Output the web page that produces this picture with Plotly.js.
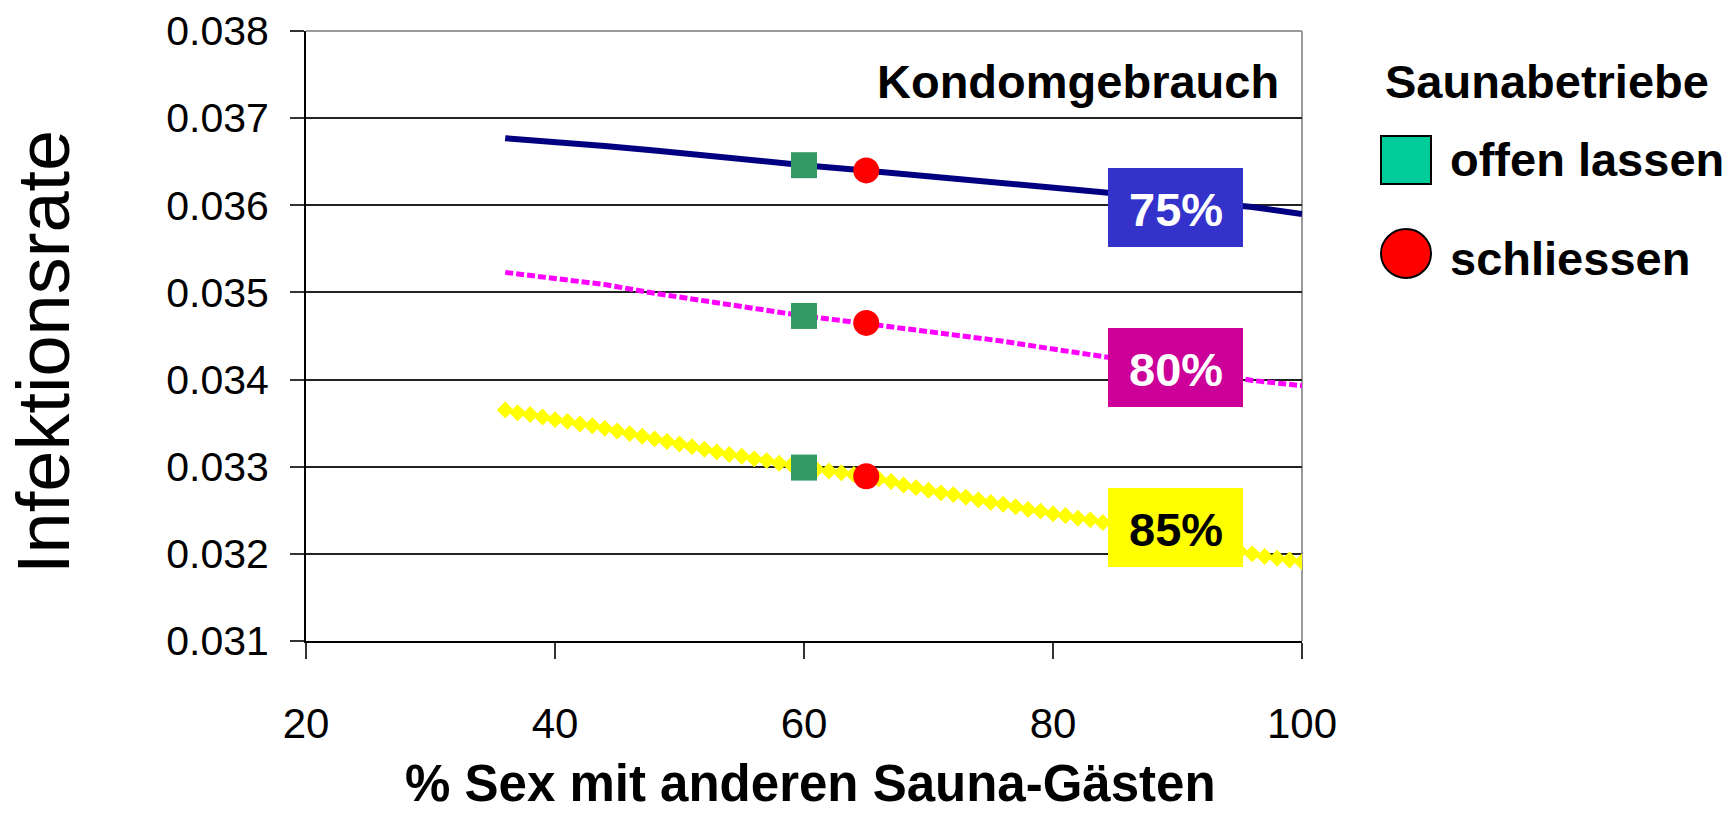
<!DOCTYPE html>
<html>
<head>
<meta charset="utf-8">
<script src="https://cdn.plot.ly/plotly-3.0.1.min.js"></script>
<style>
html,body{margin:0;padding:0;background:#fff;}
#chart{width:1732px;height:814px;}
</style>
</head>
<body>
<div id="chart"></div>
<script>
// ---- data ----
const xTicks = [20, 40, 60, 80, 100];
const yTicks = [0.031, 0.032, 0.033, 0.034, 0.035, 0.036, 0.037, 0.038];
const yTickText = ["0.031", "0.032", "0.033", "0.034", "0.035", "0.036", "0.037", "0.038"];

const x75 = [36, 40, 44, 48, 52, 56, 60, 64, 68, 72, 76, 80, 84, 88, 92, 96, 100];
const y75 = [0.03677, 0.03673, 0.03668, 0.03663, 0.03657, 0.03651, 0.03646, 0.03641, 0.03636, 0.03631, 0.03625, 0.03620, 0.03615, 0.03609, 0.03604, 0.03598, 0.03590];

const x80 = [36, 40, 44, 48, 52, 56, 60, 64, 68, 72, 76, 80, 84, 88, 92, 96, 100];
const y80 = [0.03523, 0.03516, 0.03509, 0.03499, 0.03490, 0.03481, 0.03473, 0.03466, 0.03459, 0.03451, 0.03444, 0.03435, 0.03427, 0.03418, 0.03409, 0.03399, 0.03393];

const x85 = [36, 37, 38, 39, 40, 41, 42, 43, 44, 45, 46, 47, 48, 49, 50, 51, 52, 53, 54, 55, 56, 57, 58, 59, 60, 61, 62, 63, 64, 65, 66, 67, 68, 69, 70, 71, 72, 73, 74, 75, 76, 77, 78, 79, 80, 81, 82, 83, 84, 85, 86, 87, 88, 89, 90, 91, 92, 93, 94, 95, 96, 97, 98, 99, 100];
const y85 = [0.03365, 0.03362, 0.03360, 0.03357, 0.03354, 0.03352, 0.03349, 0.03347, 0.03344, 0.03341,
             0.03338, 0.03335, 0.03332, 0.03329, 0.03326, 0.03323, 0.03320, 0.03317, 0.03314, 0.03312,
             0.03309, 0.03307, 0.03304, 0.03302, 0.03299, 0.03297, 0.03295, 0.03293, 0.03291, 0.03289,
             0.03286, 0.03283, 0.03279, 0.03276, 0.03273, 0.03270, 0.03268, 0.03265, 0.03262, 0.03259,
             0.03257, 0.03254, 0.03251, 0.03249, 0.03246, 0.03244, 0.03241, 0.03239, 0.03236, 0.03233,
             0.03230, 0.03227, 0.03224, 0.03221, 0.03218, 0.03215, 0.03212, 0.03209, 0.03206, 0.03203,
             0.03200, 0.03197, 0.03195, 0.03193, 0.03191];

const xOpen = [60, 60, 60];
const yOpen = [0.03646, 0.03473, 0.03299];
const xClose = [65, 65, 65];
const yClose = [0.03640, 0.03465, 0.03289];

const seriesLabels = ["75%", "80%", "85%"];
const legendTitle = "Saunabetriebe";
const legendLabels = ["offen lassen", "schliessen"];
const labelTitle = "Kondomgebrauch";
const xTitle = "% Sex mit anderen Sauna-Gästen";
const yTitle = "Infektionsrate";

// ---- layout helpers (pixel -> paper) ----
const W = 1732, H = 814;
const M = {l: 306, r: 430, t: 31, b: 173};
const PW = W - M.l - M.r, PH = H - M.t - M.b;
const px = x => (x - M.l) / PW;
const py = y => (H - M.b - y) / PH;

const FONT = "Liberation Sans, Arial, Helvetica, sans-serif";

const traces = [
  {x: x75, y: y75, mode: "lines", line: {color: "#000080", width: 6}, hoverinfo: "skip"},
  {x: x80, y: y80, mode: "lines", line: {color: "#FF00FF", width: 5, dash: "8px,3px"}, hoverinfo: "skip"},
  {x: x85, y: y85, mode: "lines+markers", line: {color: "#FFFF00", width: 3},
   marker: {symbol: "diamond", size: 13, color: "#FFFF00"}, hoverinfo: "skip"},
  {x: xOpen, y: yOpen, mode: "markers", marker: {symbol: "square", size: 26, color: "#339966"}, hoverinfo: "skip"},
  {x: xClose, y: yClose, mode: "markers", marker: {symbol: "circle", size: 26, color: "#FF0000"}, hoverinfo: "skip"}
];

const boxColors = ["#3333CC", "#CC0099", "#FFFF00"];
const boxText = ["#FFFFFF", "#FFFFFF", "#000000"];
const boxTops = [168, 328, 488];

const shapes = [
  // top and right frame (gray)
  {type: "line", xref: "paper", yref: "paper", x0: 0, x1: 1, y0: 1, y1: 1, line: {color: "#9a9a9a", width: 2}, layer: "between"},
  {type: "line", xref: "paper", yref: "paper", x0: 1, x1: 1, y0: 0, y1: 1, line: {color: "#9a9a9a", width: 2}, layer: "between"},
  // legend symbols
  {type: "rect", xref: "paper", yref: "paper", x0: px(1381), x1: px(1431), y0: py(184), y1: py(136),
   fillcolor: "#00CC99", line: {color: "#000", width: 2}},
  {type: "circle", xref: "paper", yref: "paper", x0: px(1381), x1: px(1431), y0: py(278), y1: py(229),
   fillcolor: "#FF0000", line: {color: "#000", width: 2}}
];
boxTops.forEach((t, i) => {
  shapes.push({type: "rect", xref: "paper", yref: "paper", x0: px(1108), x1: px(1243), y0: py(t + 79), y1: py(t),
    fillcolor: boxColors[i], line: {width: 0}, layer: "above"});
});

const annotations = [
  {xref: "paper", yref: "paper", x: px(1281), y: py(82), xanchor: "right", yanchor: "middle", showarrow: false,
   text: "<b>" + labelTitle + "</b>", font: {family: FONT, size: 47, color: "#000"}},
  {xref: "paper", yref: "paper", x: px(1383), y: py(82), xanchor: "left", yanchor: "middle", showarrow: false,
   text: "<b>" + legendTitle + "</b>", font: {family: FONT, size: 47, color: "#000"}},
  {xref: "paper", yref: "paper", x: px(1448), y: py(159), xanchor: "left", yanchor: "middle", showarrow: false,
   text: "<b>" + legendLabels[0] + "</b>", font: {family: FONT, size: 47, color: "#000"}},
  {xref: "paper", yref: "paper", x: px(1448), y: py(258), xanchor: "left", yanchor: "middle", showarrow: false,
   text: "<b>" + legendLabels[1] + "</b>", font: {family: FONT, size: 47, color: "#000"}},
  {xref: "paper", yref: "paper", x: px(810), y: py(783), xanchor: "center", yanchor: "middle", showarrow: false,
   text: "<b>" + xTitle + "</b>", font: {family: FONT, size: 51, color: "#000"}},
  {xref: "paper", yref: "paper", x: px(43), y: py(352), xanchor: "center", yanchor: "middle", showarrow: false,
   textangle: -90, text: yTitle, font: {family: FONT, size: 74, color: "#000"}}
];
boxTops.forEach((t, i) => {
  annotations.push({xref: "paper", yref: "paper", x: px(1176), y: py(t + 41), xanchor: "center", yanchor: "middle",
    showarrow: false, text: "<b>" + seriesLabels[i] + "</b>", font: {family: FONT, size: 47, color: boxText[i]}});
});

const layout = {
  width: W, height: H,
  margin: M,
  paper_bgcolor: "#fff", plot_bgcolor: "#fff",
  showlegend: false,
  font: {family: FONT, color: "#000"},
  xaxis: {
    range: [20, 100], tickvals: xTicks, ticktext: xTicks.map(String),
    ticks: "outside", ticklen: 16, tickwidth: 2, tickcolor: "#333",
    showline: true, linecolor: "#000", linewidth: 2, showgrid: false, zeroline: false,
    tickfont: {family: FONT, size: 42, color: "#000"}, ticklabelstandoff: 29, automargin: false
  },
  yaxis: {
    range: [0.031, 0.038], tickvals: yTicks, ticktext: yTickText,
    ticks: "outside", ticklen: 14, tickwidth: 2, tickcolor: "#333",
    showline: true, linecolor: "#000", linewidth: 2, showgrid: true, gridcolor: "#222", gridwidth: 2, zeroline: false,
    tickfont: {family: FONT, size: 41, color: "#000"}, ticklabelstandoff: 13, automargin: false
  },
  shapes: shapes,
  annotations: annotations
};

Plotly.newPlot("chart", traces, layout, {staticPlot: true, displayModeBar: false});
</script>
</body>
</html>
